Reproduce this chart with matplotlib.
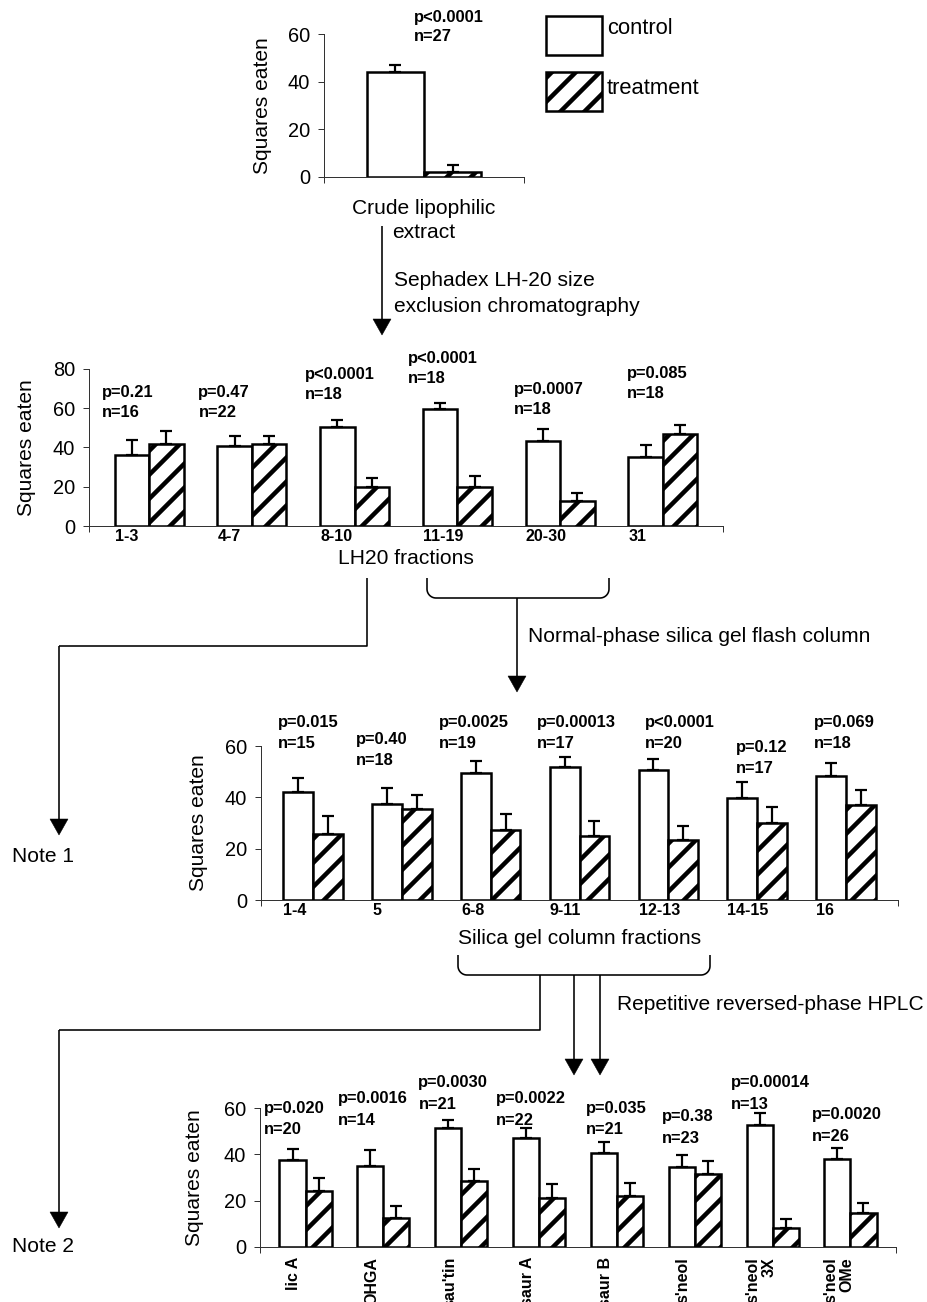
import numpy as np
import matplotlib
matplotlib.use("Agg")
import matplotlib.pyplot as plt
from matplotlib.patches import Rectangle, Polygon

plt.rcParams['font.family'] = ['Liberation Sans', 'DejaVu Sans']
plt.rcParams['hatch.linewidth'] = 4.5
plt.rcParams['hatch.color'] = 'black'

# ---------------- data ----------------
p1_categories = ["Crude lipophilic extract"]
p1_control = [44.0]
p1_control_err = [3.0]
p1_treat = [2.2]
p1_treat_err = [3.0]
p1_p = ["p<0.0001"]
p1_n = ["n=27"]

p2_categories = ["1-3", "4-7", "8-10", "11-19", "20-30", "31"]
p2_control = [36.0, 40.6, 50.2, 59.7, 43.5, 35.3]
p2_control_err = [8.0, 5.3, 3.7, 2.8, 6.0, 6.0]
p2_treat = [41.6, 41.6, 19.8, 20.0, 12.8, 46.9]
p2_treat_err = [7.0, 4.3, 4.8, 5.6, 3.8, 4.6]
p2_p = ["p=0.21", "p=0.47", "p<0.0001", "p<0.0001", "p=0.0007", "p=0.085"]
p2_n = ["n=16", "n=22", "n=18", "n=18", "n=18", "n=18"]

p3_categories = ["1-4", "5", "6-8", "9-11", "12-13", "14-15", "16"]
p3_control = [41.9, 37.5, 49.5, 51.7, 50.5, 39.7, 48.4]
p3_control_err = [5.8, 6.1, 4.8, 4.0, 4.5, 6.1, 4.8]
p3_treat = [25.6, 35.5, 27.4, 24.8, 23.5, 29.9, 37.0]
p3_treat_err = [7.0, 5.5, 6.1, 6.1, 5.5, 6.3, 6.0]
p3_p = ["p=0.015", "p=0.40", "p=0.0025", "p=0.00013", "p<0.0001", "p=0.12", "p=0.069"]
p3_n = ["n=15", "n=18", "n=19", "n=17", "n=20", "n=17", "n=18"]

p4_categories = ["lic A", "OHGA", "sau'tin", "saur A", "saur B", "s'neol",
                 "s'neol\n3X", "s'neol\nOMe"]
p4_control = [37.7, 34.8, 51.4, 47.0, 40.4, 34.4, 52.5, 38.0]
p4_control_err = [4.7, 7.2, 3.3, 4.4, 5.1, 5.3, 5.2, 4.6]
p4_treat = [24.0, 12.7, 28.3, 21.3, 22.0, 31.4, 8.3, 14.8]
p4_treat_err = [5.8, 4.9, 5.2, 5.7, 5.8, 5.7, 3.8, 4.0]
p4_p = ["p=0.020", "p=0.0016", "p=0.0030", "p=0.0022", "p=0.035", "p=0.38",
        "p=0.00014", "p=0.0020"]
p4_n = ["n=20", "n=14", "n=21", "n=22", "n=21", "n=23", "n=13", "n=26"]

# ---------------- layout (annotation placement) ----------------
p1_ann_dx = [-0.06]
p1_ann_y = [67.1]
p2_ann_dx = [-0.46, -0.52, -0.48, -0.48, -0.45, -0.35]
p2_ann_y = [68, 68, 77, 85.3, 69.5, 77.7]
p3_ann_dx = [-0.39, -0.52, -0.58, -0.48, -0.26, -0.24, -0.36]
p3_ann_y = [69, 62.7, 69, 69, 69, 59.6, 69]
p4_ann_dx = [-0.53, -0.59, -0.55, -0.56, -0.40, -0.42, -0.54, -0.50]
p4_ann_y = [60, 63.9, 70.8, 63.9, 60, 56.5, 70.8, 57]

DPI = 72
W, H = 927, 1302
BW = 0.335
MARGIN = 0.585
PFS = 16.5

fig = plt.figure(figsize=(W / DPI, H / DPI), dpi=DPI)
fig.patch.set_facecolor('white')


def ax_box(l, r, t, b):
    return fig.add_axes([l / W, 1 - b / H, (r - l) / W, (b - t) / H])


def panel(box, cats, ctrl, ctrl_err, trt, trt_err, ymax, pvals, ns, dx, py,
          n_gap, ylabel_x):
    ax = ax_box(*box)
    k = len(cats)
    x = np.arange(k)
    ekw = dict(ecolor='black', elinewidth=2.2, capsize=6, capthick=2.2)
    ax.bar(x - BW / 2, ctrl, BW, color='white', edgecolor='black', linewidth=2.5,
           yerr=[np.zeros(k), ctrl_err], error_kw=ekw, zorder=3)
    ax.bar(x + BW / 2, trt, BW, color='white', edgecolor='black', linewidth=2.5,
           hatch='/', yerr=[np.zeros(k), trt_err], error_kw=ekw, zorder=3)
    xmin, xmax = -MARGIN, k - 1 + MARGIN
    ax.set_xlim(xmin, xmax)
    ax.set_ylim(0, ymax)
    ax.set_yticks(np.arange(0, ymax + 1, 20))
    ax.set_xticks([xmin, xmax])
    ax.set_xticklabels([])
    for s in ['top', 'right']:
        ax.spines[s].set_visible(False)
    for s in ['left', 'bottom']:
        ax.spines[s].set_linewidth(1)
        ax.spines[s].set_color('#333333')
    ax.tick_params(axis='y', direction='out', length=6, width=1,
                   labelsize=20, pad=8, color='#333333')
    ax.tick_params(axis='x', direction='out', length=6, width=1, color='#333333')
    ax.patch.set_alpha(0)
    for i in range(k):
        ax.annotate(pvals[i], xy=(i + dx[i], py[i]), ha='left', va='center',
                    fontsize=PFS, fontweight='bold', annotation_clip=False)
        ax.annotate(ns[i], xy=(i + dx[i], py[i]), xytext=(0, -n_gap),
                    textcoords='offset points', ha='left', va='center',
                    fontsize=PFS, fontweight='bold', annotation_clip=False)
    l, r, t, b = box
    fig.text(ylabel_x / W, 1 - ((t + b) / 2) / H, 'Squares eaten', rotation=90,
             ha='center', va='center', fontsize=21)
    return ax


# Panel 1
ax1 = panel((324, 524, 34, 177), p1_categories, p1_control, p1_control_err,
            p1_treat, p1_treat_err, 60, p1_p, p1_n, p1_ann_dx, p1_ann_y, 19, 262)

# Panel 2
ax2 = panel((89, 723, 369, 526), p2_categories, p2_control, p2_control_err,
            p2_treat, p2_treat_err, 80, p2_p, p2_n, p2_ann_dx, p2_ann_y, 20, 27)
for i, c in enumerate(p2_categories):
    ax2.annotate(c, xy=(i - BW, 0), xytext=(0, -3), textcoords='offset points',
                 ha='left', va='top', fontsize=16, fontweight='bold',
                 annotation_clip=False)

# Panel 3
ax3 = panel((261, 898, 746, 900), p3_categories, p3_control, p3_control_err,
            p3_treat, p3_treat_err, 60, p3_p, p3_n, p3_ann_dx, p3_ann_y, 21, 198)
for i, c in enumerate(p3_categories):
    ax3.annotate(c, xy=(i - BW, 0), xytext=(0, -3), textcoords='offset points',
                 ha='left', va='top', fontsize=16, fontweight='bold',
                 annotation_clip=False)

# Panel 4
ax4 = panel((260, 896, 1108, 1247), p4_categories, p4_control, p4_control_err,
            p4_treat, p4_treat_err, 60, p4_p, p4_n, p4_ann_dx, p4_ann_y, 22, 195)
for i, c in enumerate(p4_categories):
    ax4.annotate(c, xy=(i - 0.15, 0), xytext=(0, -10), textcoords='offset points',
                 rotation=90, ha='center', va='top', multialignment='right',
                 fontsize=16, fontweight='bold', annotation_clip=False,
                 linespacing=1.1)

# ---------------- overlay: text, legend, flow chart ----------------
ov = fig.add_axes([0, 0, 1, 1])
ov.set_xlim(0, W)
ov.set_ylim(H, 0)
ov.axis('off')

FS = 21
ov.text(424, 209, "Crude lipophilic", ha='center', va='center', fontsize=FS)
ov.text(424, 232, "extract", ha='center', va='center', fontsize=FS)
ov.text(406, 558, "LH20 fractions", ha='center', va='center', fontsize=FS)
ov.text(580, 938, "Silica gel column fractions", ha='center', va='center', fontsize=FS)

# legend
ov.add_patch(Rectangle((546, 16), 56, 39, facecolor='white', edgecolor='black', lw=2.5))
ov.add_patch(Rectangle((546, 72), 56, 39, facecolor='white', edgecolor='black', lw=2.5,
                       hatch='/'))
ov.text(607, 29, "control", ha='left', va='center', fontsize=22)
ov.text(607, 89, "treatment", ha='left', va='center', fontsize=22)

LW = 1.6


def line(xs, ys):
    ov.plot(xs, ys, color='black', lw=LW, solid_capstyle='butt')


def arrow(x, y0, tip):
    line([x, x], [y0, tip - 14])
    ov.add_patch(Polygon([(x - 9, tip - 16), (x + 9, tip - 16), (x, tip)],
                         closed=True, facecolor='black', edgecolor='black', lw=0.5))


def brace(x0, x1, ytop, ybot, r=9):
    t = np.linspace(0, np.pi / 2, 15)
    xs = [x0]
    ys = [ytop]
    xs += list(x0 + r - r * np.cos(t))
    ys += list(ybot - r + r * np.sin(t))
    xs += list(x1 - r + r * np.sin(t))
    ys += list(ybot - r + r * np.cos(t))
    xs += [x1]
    ys += [ytop]
    line(xs, ys)


# step 1
arrow(382, 226, 335)
ov.text(394, 280, "Sephadex LH-20 size", ha='left', va='center', fontsize=FS)
ov.text(394, 307, "exclusion chromatography", ha='left', va='center', fontsize=FS)

# Note 1 branch
line([367, 367, 59], [578, 646, 646])
arrow(59, 646, 835)
ov.text(12, 857, "Note 1", ha='left', va='center', fontsize=FS)

# step 2
brace(427, 609, 578, 598)
arrow(517, 598, 692)
ov.text(528, 637, "Normal-phase silica gel flash column", ha='left', va='center',
        fontsize=FS)

# step 3
brace(458, 710, 955, 975)
line([540, 540, 59], [975, 1030, 1030])
arrow(59, 1030, 1228)
ov.text(12, 1247, "Note 2", ha='left', va='center', fontsize=FS)
arrow(574, 975, 1075)
arrow(600, 975, 1075)
ov.text(617, 1005, "Repetitive reversed-phase HPLC", ha='left', va='center',
        fontsize=FS)

fig.savefig("out.png", dpi=DPI, facecolor='white')
